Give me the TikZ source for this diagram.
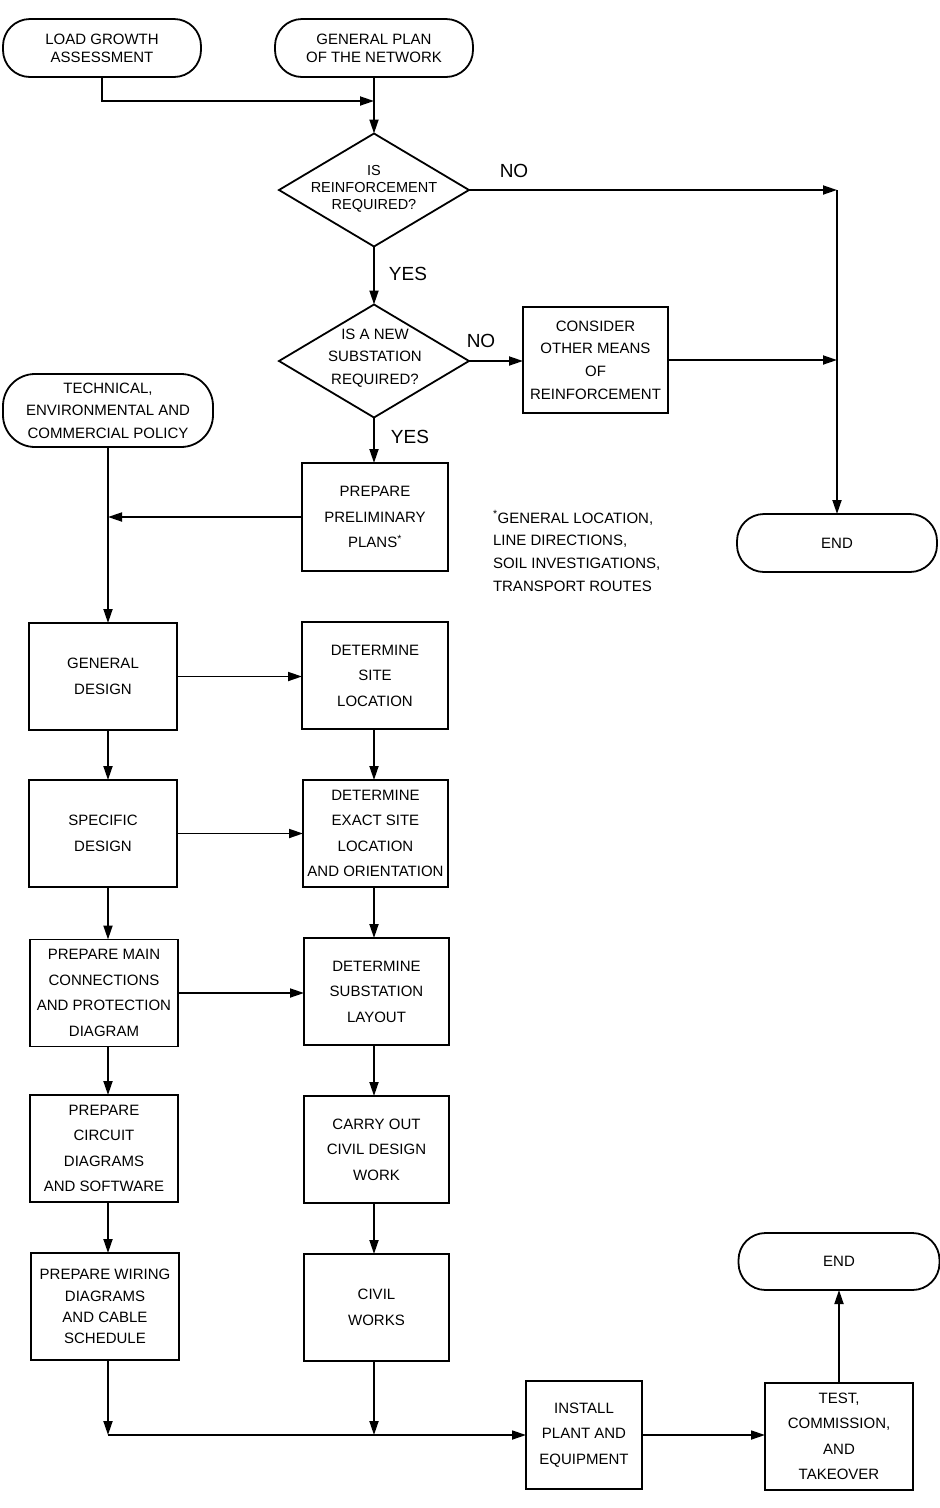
\documentclass[tikz,border=0pt]{standalone}
\usepackage{fontspec}
\setmainfont{Liberation Sans}
\usetikzlibrary{arrows.meta,shapes.geometric}
\tikzset{
  every node/.style={font=\fontsize{15}{25.5}\selectfont, align=center, inner sep=0pt, outer sep=0pt},
  lines/.style={font=\fontsize{15}{#1}\selectfont},
  box/.style={draw, line width=1.8pt, minimum width=146pt, minimum height=107pt},
  pill/.style={draw, line width=1.8pt, rounded corners=27pt, minimum width=198pt, minimum height=58pt},
  decision/.style={draw, diamond, line width=1.8pt, minimum width=190pt, minimum height=113pt},
  answer/.style={font=\fontsize{19}{19}\selectfont},
  arr/.style={line width=1.8pt, -{Triangle[length=14pt,width=9pt]}}
}
\begin{document}
\begin{tikzpicture}[x=1pt,y=-1pt]
  \useasboundingbox (0,0) rectangle (940,1508);
  \node[pill, lines=18] (load) at (102,48) {LOAD GROWTH\\ASSESSMENT};
  \node[pill, lines=18] (plan) at (374,48) {GENERAL PLAN\\OF THE NETWORK};
  \node[decision] (reinf) at (374,190) {};
  \node[font=\fontsize{14.5}{17}\selectfont] (reinf-txt) at (374,189) {IS\\REINFORCEMENT\\REQUIRED?};
  \node[decision] (newsub) at (374,361) {};
  \node[lines=22.5] (newsub-txt) at (375,358) {IS A NEW\\SUBSTATION\\REQUIRED?};
  \node[box, minimum width=145pt, minimum height=106pt, lines=22.7] (other) at (595.5,360) {CONSIDER\\OTHER MEANS\\OF\\REINFORCEMENT};
  \node[pill, minimum width=200pt] (end1) at (837,543) {END};
  \node[pill, minimum width=210pt, minimum height=73pt, rounded corners=32pt, lines=22.5] (policy) at (108,410.5) {TECHNICAL,\\ENVIRONMENTAL AND\\COMMERCIAL POLICY};
  \node[box, minimum height=108pt] (prelim) at (375,517) {PREPARE\\PRELIMINARY\\PLANS\textsuperscript{*}};
  \node[anchor=west, align=left, lines=22.7] (note) at (493,551) {\textsuperscript{*}GENERAL LOCATION,\\LINE DIRECTIONS,\\SOIL INVESTIGATIONS,\\TRANSPORT ROUTES};
  \node[box, minimum width=148pt] (gendes) at (103,676.5) {GENERAL\\DESIGN};
  \node[box] (site) at (375,675.5) {DETERMINE\\SITE\\LOCATION};
  \node[box, minimum width=148pt] (specdes) at (103,833.5) {SPECIFIC\\DESIGN};
  \node[box, minimum width=145pt, lines=25.3] (exact) at (375.5,833.5) {DETERMINE\\EXACT SITE\\LOCATION\\AND ORIENTATION};
  \node[box, minimum width=148pt] (mainconn) at (104,993) {PREPARE MAIN\\CONNECTIONS\\AND PROTECTION\\DIAGRAM};
  \node[box, minimum width=145pt] (layout) at (376.5,991.5) {DETERMINE\\SUBSTATION\\LAYOUT};
  \node[box, minimum width=148pt] (circuit) at (104,1148.5) {PREPARE\\CIRCUIT\\DIAGRAMS\\AND SOFTWARE};
  \node[box, minimum width=145pt] (civdes) at (376.5,1149.5) {CARRY OUT\\CIVIL DESIGN\\WORK};
  \node[box, minimum width=148pt, lines=21.3] (wiring) at (105,1306.5) {PREPARE WIRING\\DIAGRAMS\\AND CABLE\\SCHEDULE};
  \node[box, minimum width=145pt] (civworks) at (376.5,1307.5) {CIVIL\\WORKS};
  \node[box, minimum width=116pt, minimum height=108pt] (install) at (584,1435) {INSTALL\\PLANT AND\\EQUIPMENT};
  \node[box, minimum width=148pt] (test) at (839,1436.5) {TEST,\\COMMISSION,\\AND\\TAKEOVER};
  \node[pill, minimum width=201pt, minimum height=57pt] (end2) at (839,1261.5) {END};
  \node[answer] (no1) at (514,171) {NO};
  \node[answer] (yes1) at (408,274) {YES};
  \node[answer] (no2) at (481,341) {NO};
  \node[answer] (yes2) at (410,437) {YES};
  \coordinate (j1) at (374,101);
  \coordinate (j2) at (end1.north |- reinf.east);
  \coordinate (j3) at (policy.south |- prelim.west);
  \coordinate (j4) at (wiring.south -| policy.south);
  \coordinate (j5) at (j4 |- install.west);
  \coordinate (rc) at (374,0);
  \draw[arr] (load.south) |- (j1);
  \draw[arr] (plan.south) -- (reinf.north);
  \draw[arr] (reinf.east) -- (j2);
  \draw[arr] (j2) -- (end1.north);
  \draw[arr] (reinf.south) -- (newsub.north);
  \draw[arr] (newsub.east) -- (other.west |- newsub.east);
  \draw[arr] (other.east) -- (end1.north |- other.east);
  \draw[arr] (newsub.south) -- (prelim.north -| newsub.south);
  \draw[arr] (prelim.west) -- (j3);
  \draw[arr] (policy.south) -- (gendes.north -| policy.south);
  \draw[arr] (gendes.east) -- (site.west |- gendes.east);
  \draw[arr] (gendes.south -| policy.south) -- (specdes.north -| policy.south);
  \draw[arr] (site.south -| rc) -- (exact.north -| rc);
  \draw[arr] (specdes.east) -- (exact.west |- specdes.east);
  \draw[arr] (specdes.south -| policy.south) -- (mainconn.north -| policy.south);
  \draw[arr] (exact.south -| rc) -- (layout.north -| rc);
  \draw[arr] (mainconn.east) -- (layout.west |- mainconn.east);
  \draw[arr] (mainconn.south -| policy.south) -- (circuit.north -| policy.south);
  \draw[arr] (layout.south -| rc) -- (civdes.north -| rc);
  \draw[arr] (circuit.south -| policy.south) -- (wiring.north -| policy.south);
  \draw[arr] (civdes.south -| rc) -- (civworks.north -| rc);
  \draw[arr] (j4) -- (j5);
  \draw[arr] (civworks.south -| rc) -- (j5 -| rc);
  \draw[arr] (j5) -- (install.west);
  \draw[arr] (install.east) -- (test.west |- install.east);
  \draw[arr] (test.north) -- (end2.south);
\end{tikzpicture}
\end{document}
